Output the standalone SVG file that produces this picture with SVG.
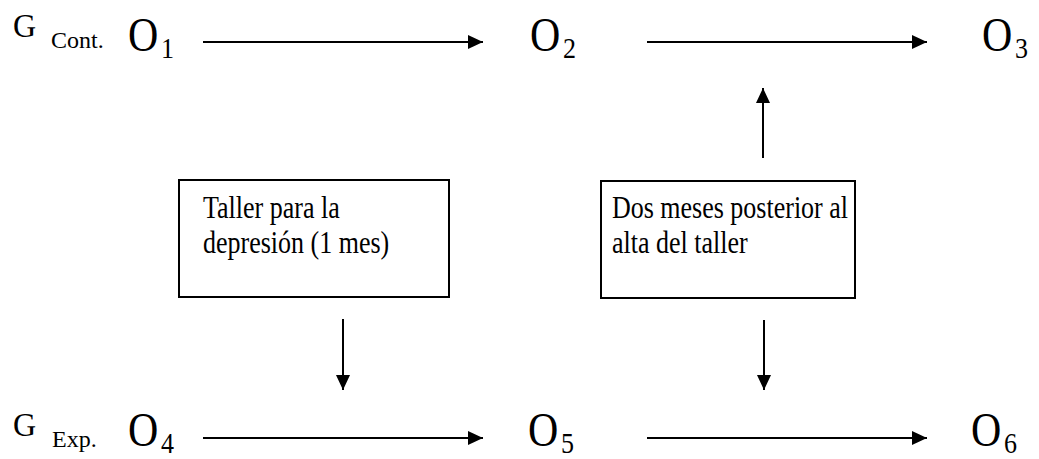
<svg xmlns="http://www.w3.org/2000/svg" width="1039" height="459" viewBox="0 0 1039 459">
  <style>
    text { font-family: "Liberation Serif", "Times New Roman", serif; fill: #000; }
    .g { font-size: 32px; }
    .gs { font-size: 24px; }
    .o { font-size: 42px; }
    .os { font-size: 26px; }
    .bt { font-size: 26px; }
    .box { fill: #fff; stroke: #000; stroke-width: 2; }
    .conn line { stroke: #000; stroke-width: 2; }
  </style>
  <defs>
    <marker id="arrow" viewBox="0 0 15 14" refX="15" refY="7" markerWidth="15" markerHeight="14" markerUnits="userSpaceOnUse" orient="auto">
      <path d="M0,0 L15,7 L0,14 Z" fill="#000"/>
    </marker>
  </defs>

  <!-- glyphs are drawn slightly taller than wide: matrix(1,0,0,sy,x,baseline) -->

  <!-- control group row -->
  <g id="g-cont">
    <text class="g" transform="matrix(1,0,0,1.05,13,37)">G</text>
    <text class="gs" transform="matrix(1,0,0,1,51,48)">Cont.</text>
  </g>
  <g id="o1">
    <text class="o" transform="matrix(1,0,0,1.15,128,51)">O</text>
    <text class="os" transform="matrix(1,0,0,1.15,161,58)">1</text>
  </g>
  <g id="o2">
    <text class="o" transform="matrix(1,0,0,1.15,530,51)">O</text>
    <text class="os" transform="matrix(1,0,0,1.15,563,58)">2</text>
  </g>
  <g id="o3">
    <text class="o" transform="matrix(1,0,0,1.15,982,51)">O</text>
    <text class="os" transform="matrix(1,0,0,1.15,1015,58)">3</text>
  </g>

  <!-- experimental group row -->
  <g id="g-exp">
    <text class="g" transform="matrix(1,0,0,1.05,13,436)">G</text>
    <text class="gs" transform="matrix(1,0,0,1,52,447)">Exp.</text>
  </g>
  <g id="o4">
    <text class="o" transform="matrix(1,0,0,1.15,128,446)">O</text>
    <text class="os" transform="matrix(1,0,0,1.15,161,453)">4</text>
  </g>
  <g id="o5">
    <text class="o" transform="matrix(1,0,0,1.15,528,446)">O</text>
    <text class="os" transform="matrix(1,0,0,1.15,561,453)">5</text>
  </g>
  <g id="o6">
    <text class="o" transform="matrix(1,0,0,1.15,971,446)">O</text>
    <text class="os" transform="matrix(1,0,0,1.15,1004,453)">6</text>
  </g>

  <!-- intervention boxes -->
  <g id="taller">
    <rect class="box" x="179" y="180" width="270" height="117"/>
    <text class="bt" transform="matrix(1,0,0,1.2,203,218)">Taller para la</text>
    <text class="bt" transform="matrix(1,0,0,1.2,203,253)">depresión (1 mes)</text>
  </g>
  <g id="seguimiento">
    <rect class="box" x="601" y="181" width="254" height="117"/>
    <text class="bt" transform="matrix(1,0,0,1.2,612,218)">Dos meses posterior al</text>
    <text class="bt" transform="matrix(1,0,0,1.2,612,253)">alta del taller</text>
  </g>

  <!-- connectors -->
  <g class="conn" id="connectors">
    <line x1="203" y1="42" x2="483" y2="42" marker-end="url(#arrow)"/>
    <line x1="647" y1="42" x2="927" y2="42" marker-end="url(#arrow)"/>
    <line x1="203" y1="438" x2="483" y2="438" marker-end="url(#arrow)"/>
    <line x1="647" y1="438" x2="927" y2="438" marker-end="url(#arrow)"/>
    <line x1="763" y1="158" x2="763" y2="88" marker-end="url(#arrow)"/>
    <line x1="343" y1="319" x2="343" y2="390" marker-end="url(#arrow)"/>
    <line x1="764" y1="320" x2="764" y2="390" marker-end="url(#arrow)"/>
  </g>
</svg>
